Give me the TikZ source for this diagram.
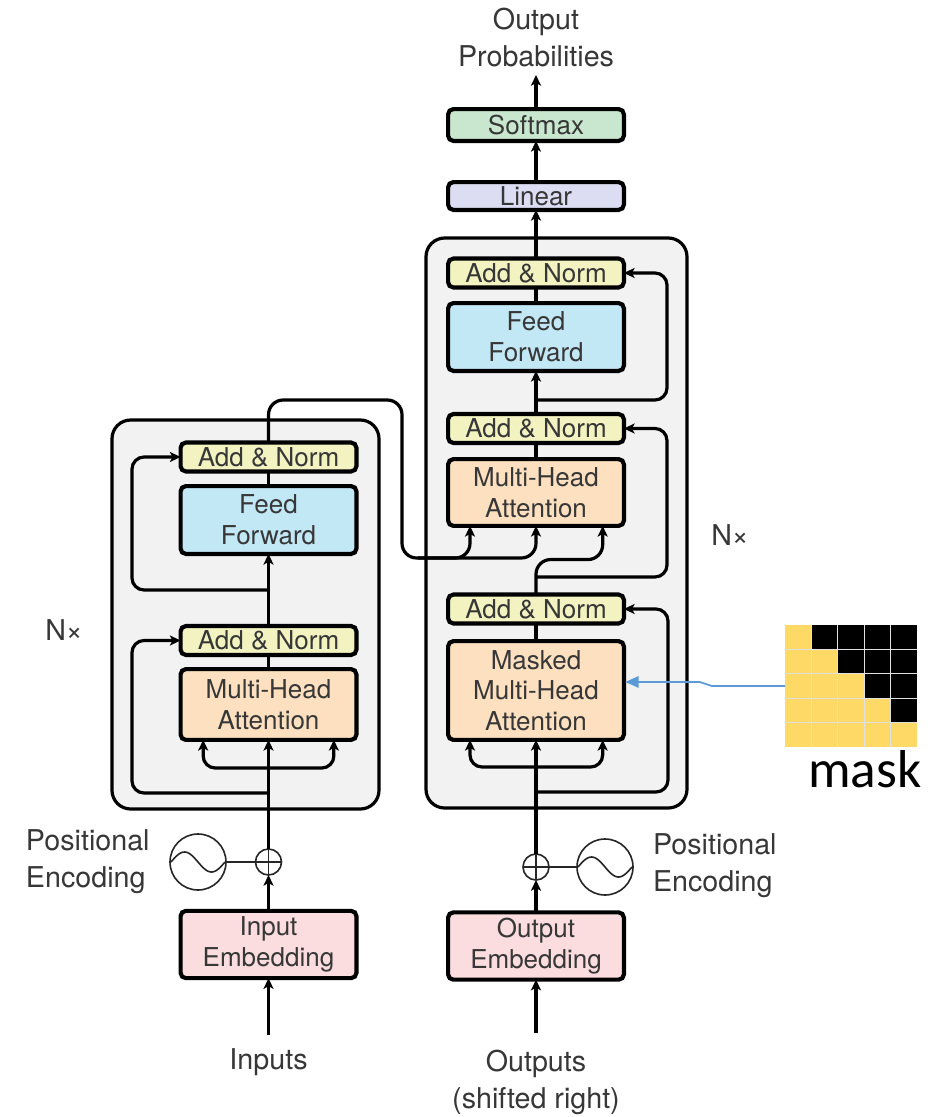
\documentclass[tikz,border=0pt]{standalone}
\usepackage{fontspec}
\setmainfont{TeX Gyre Heros}
\newfontfamily\maskfont{Carlito}
\usetikzlibrary{arrows.meta}

\definecolor{anfill}{RGB}{242,243,193}
\definecolor{fffill}{RGB}{194,231,245}
\definecolor{mhafill}{RGB}{252,224,192}
\definecolor{embfill}{RGB}{251,221,224}
\definecolor{linfill}{RGB}{220,221,242}
\definecolor{smfill}{RGB}{201,231,207}
\definecolor{stackfill}{RGB}{242,242,242}
\definecolor{maskyellow}{RGB}{255,217,102}
\definecolor{maskblue}{RGB}{91,155,213}
\definecolor{txt}{RGB}{55,55,55}

\begin{document}
\begin{tikzpicture}[x=0.75pt,y=-0.75pt,
  every node/.style={inner sep=0pt, outer sep=0pt},
  lbl/.style={font=\fontsize{21.5}{27.75}\selectfont, text=txt, align=center},
  blk/.style={draw=black, line width=3.1pt, rounded corners=4pt, align=center,
    font=\fontsize{19.5}{23}\selectfont, text=txt, minimum width=131.9pt},
  an/.style={blk, fill=anfill, minimum height=21.7pt},
  ff/.style={blk, fill=fffill, minimum height=50.9pt},
  mha/.style={blk, fill=mhafill},
  emb/.style={blk, fill=embfill, minimum height=50.5pt},
  stack/.style={draw=black, line width=2.4pt, fill=stackfill, rounded corners=14pt},
  conn/.style={draw=black, line width=2.4pt},
  arr/.style={conn, -{Stealth[length=8pt,width=7.5pt,inset=2pt]}},
  res/.style={arr, rounded corners=9pt},
  thinline/.style={draw=black!85, line width=1.2pt},
  plusnode/.style={circle, thinline, minimum size=19.5pt},
  sinenode/.style={circle, thinline, minimum size=42pt},
]
\useasboundingbox (0,0) rectangle (938,1117);
\fill[white] (0,0) rectangle (938,1117);

% ---------- the two stacks ----------
\path[stack] (112,420) rectangle (379,809);
\path[stack] (426,238) rectangle (687,808);

% ---------- encoder blocks ----------
\node[an]  (eAN2) at (268.5,457)   {Add \& Norm};
\node[ff]  (eFF)  at (268.5,520)   {Feed\\Forward};
\node[an]  (eAN1) at (268.5,640.5) {Add \& Norm};
\node[mha, minimum height=53.1pt] (eMHA) at (268.5,704.5) {Multi-Head\\Attention};
\node[emb] (eEmb) at (268.5,944.5) {Input\\Embedding};
\node[plusnode] (ePlus) at (268.5,862) {};
\node[sinenode] (eSin) at (198,862) {};
\draw[thinline] (ePlus.north) -- (ePlus.south) (ePlus.west) -- (ePlus.east);
\draw[thinline] plot[domain=-1:1,samples=40,smooth] ({198+27*\x},{862+10*sin(180*\x)});

\node[lbl, align=left, anchor=west] (ePE) at (26,862) {Positional\\Encoding};
\node[lbl] (eIn) at (268.5,1062) {Inputs};
\node[lbl] (eN) at (64,630) {N×};

% ---------- decoder blocks ----------
\node[an]  (dAN3) at (536,273)   {Add \& Norm};
\node[ff]  (dFF)  at (536,337)   {Feed\\Forward};
\node[an]  (dAN2) at (536,428.5) {Add \& Norm};
\node[mha, minimum height=50.1pt] (dMHA) at (536,492.5) {Multi-Head\\Attention};
\node[an]  (dAN1) at (536,609)   {Add \& Norm};
\node[mha, minimum height=74.1pt] (dMMHA) at (536,690.5) {Masked\\Multi-Head\\Attention};
\node[emb] (dEmb) at (536,946) {Output\\Embedding};
\node[plusnode] (dPlus) at (536,867) {};
\node[sinenode] (dSin) at (605,867) {};
\draw[thinline] (dPlus.north) -- (dPlus.south) (dPlus.west) -- (dPlus.east);
\draw[thinline] plot[domain=-1:1,samples=40,smooth] ({605+27*\x},{867+10*sin(180*\x)});

\node[lbl, align=left, anchor=west] (dPE) at (653,866) {Positional\\Encoding};
\node[lbl] (dOut) at (536,1082) {Outputs\\(shifted right)};
\node[lbl] (dN) at (730,535) {N×};

% ---------- output head ----------
\node[blk, fill=linfill, minimum height=20.9pt] (lin)  at (536,196) {Linear};
\node[blk, fill=smfill,  minimum height=23.9pt] (soft) at (536,125) {Softmax};
\node[lbl] (prob) at (536,38) {Output\\Probabilities};

% ---------- free ends ----------
\coordinate (eInTop)  at (268.5,1035);
\coordinate (dOutTop) at (536,1033);
\coordinate (probTop) at (536,75);
\coordinate (eSplit)  at (268.5,768);
\coordinate (eRes1)   at (268.5,793);
\coordinate (eRes2)   at (268.5,590);
\coordinate (dSplit)  at (536,767);
\coordinate (dRes1)   at (536,792);
\coordinate (dRes2)   at (536,577);
\coordinate (dRes3)   at (536,400);
\coordinate (xTop)    at (402,400);
\coordinate (xLow)    at (402,558);

% ---------- encoder connectors ----------
\draw[arr] (eInTop) -- (eEmb.south);
\draw[arr] (eEmb.north) -- (ePlus.south);
\draw[thinline] (eSin.east) -- (ePlus.west);
\draw[arr] (ePlus.north) -- (eMHA.south);
\draw[res] (eSplit) -| ([xshift=-49pt]eMHA.south);
\draw[res] (eSplit) -| ([xshift=49pt]eMHA.south);
\draw[res] (eRes1) -- ++(-136.5,0) |- (eAN1.west);
\draw[conn] (eMHA.north) -- (eAN1.south);
\draw[arr] (eAN1.north) -- (eFF.south);
\draw[res] (eRes2) -- ++(-136.5,0) |- (eAN2.west);
\draw[conn] (eFF.north) -- (eAN2.south);

% ---------- encoder to decoder ----------
\draw[res, rounded corners=11pt] (eAN2.north) |- (xTop) -- (xLow) -| ([xshift=-49.5pt]dMHA.south);
\draw[res, rounded corners=11pt] ([xshift=12pt]xLow) -| (dMHA.south);

% ---------- decoder connectors ----------
\draw[arr] (dOutTop) -- (dEmb.south);
\draw[arr] (dEmb.north) -- (dPlus.south);
\draw[thinline] (dPlus.east) -- (dSin.west);
\draw[arr] (dPlus.north) -- (dMMHA.south);
\draw[res] (dSplit) -| ([xshift=-49.5pt]dMMHA.south);
\draw[res] (dSplit) -| ([xshift=50pt]dMMHA.south);
\draw[res] (dRes1) -- ++(132,0) |- (dAN1.east);
\draw[conn] (dMMHA.north) -- (dAN1.south);
\draw[res, rounded corners=11pt] (dAN1.north) -- ++(0,-35) -| ([xshift=50pt]dMHA.south);
\draw[res] (dRes2) -- ++(131,0) |- (dAN2.east);
\draw[conn] (dMHA.north) -- (dAN2.south);
\draw[arr] (dAN2.north) -- (dFF.south);
\draw[res] (dRes3) -- ++(131,0) |- (dAN3.east);
\draw[conn] (dFF.north) -- (dAN3.south);
\draw[arr] (dAN3.north) -- (lin.south);
\draw[arr] (lin.north) -- (soft.south);
\draw[arr] (soft.north) -- (probTop);

% ---------- causal mask ----------
\foreach \r in {0,...,4}{
  \foreach \c in {0,...,4}{
    \ifnum\c>\r \def\cellcol{black}\else\def\cellcol{maskyellow}\fi
    \fill[\cellcol] (785+\c*26.4,625+\r*24.4) rectangle ++(26.4,24.4);
  }
}
\foreach \k in {1,...,4}{
  \draw[white!88!black, line width=1pt] (785+\k*26.4,625) -- ++(0,122);
  \draw[white!88!black, line width=1pt] (785,625+\k*24.4) -- ++(132,0);
}
\coordinate (maskL) at (785,686);
\node[font=\maskfont\fontsize{40}{48}\selectfont, anchor=base] (maskLbl) at (865,787) {mask};
\draw[maskblue, line width=1.3pt, -{Triangle[length=10pt,width=8.5pt]}, shorten >=1pt]
  (maskL) -- ++(-73,0) -- ++(-12,-4) -- ([yshift=6.4pt]dMMHA.east);
\end{tikzpicture}
\end{document}
